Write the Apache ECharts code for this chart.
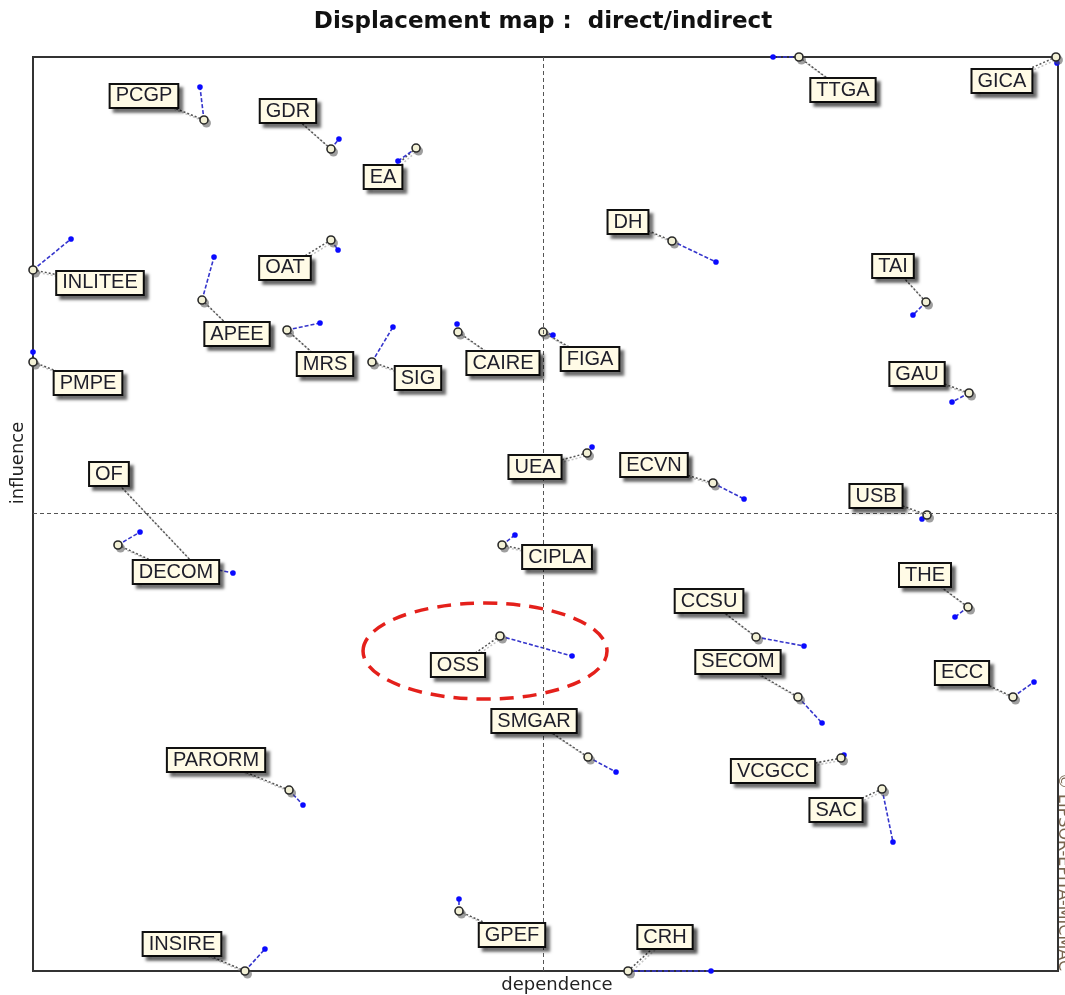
<!DOCTYPE html>
<html>
<head>
<meta charset="utf-8">
<script src="https://cdn.jsdelivr.net/npm/echarts@6/dist/echarts.min.js"></script>
<style>
html,body{margin:0;padding:0;background:#fff;}
#chart{width:1065px;height:995px;}
</style>
</head>
<body>
<div id="chart"></div>
<script>
// ---- data (dependence = x, influence = y) ----
const names = ['PCGP','GDR','EA','DH','TTGA','GICA','INLITEE','OAT','APEE','MRS','SIG','CAIRE','FIGA','PMPE','TAI','GAU','UEA','ECVN','USB','OF','DECOM','CIPLA','THE','CCSU','SECOM','ECC','OSS','SMGAR','PARORM','VCGCC','SAC','GPEF','CRH','INSIRE'];
const directX   = [16.68,29.07,37.37,62.34,74.73,99.8,0,29.07,16.49,24.78,33.07,41.46,49.76,0,87.12,91.32,54.05,66.34,87.22,15.80,8.29,45.76,91.22,70.54,74.63,95.61,45.56,54.15,24.98,78.83,82.83,41.56,58.05,20.68];
const directY   = [93.11,89.93,90.04,79.87,100,100,76.70,79.98,73.41,70.13,66.63,69.91,69.91,66.63,73.19,63.24,56.67,53.39,49.89,44.42,46.61,46.61,39.82,36.54,29.98,29.98,36.65,23.41,19.80,23.30,19.91,6.56,0,0];
const indirectX = [16.29,29.85,35.61,66.63,72.20,99.9,3.71,29.76,17.66,28.00,35.12,41.37,50.73,0,85.85,89.66,54.54,69.37,86.73,19.51,10.44,47.02,89.95,75.22,76.98,97.66,52.59,56.88,26.34,79.12,83.90,41.56,66.15,22.63];
const indirectY = [96.72,91.03,88.62,77.57,100,99.34,80.09,78.88,78.12,70.90,70.46,70.79,69.58,67.72,71.77,62.25,57.33,51.64,49.45,43.54,48.03,47.70,38.73,35.56,27.13,31.62,34.46,21.77,18.16,23.63,14.11,7.88,0,2.41];
const meanX = 49.76;
const meanY = 50.11;
const axisMin = 0, axisMax = 100;
const titleText = 'Displacement map :  direct/indirect';
const xName = 'dependence';
const yName = 'influence';
const copyright = '\u00A9 LIPSOR-EPITA-MICMAC';
// highlighted group (ellipse around OSS), in data units
const ellipseCenter = [44.1, 35.0];

// ---- layout (label offsets in pixels from the direct point) ----
const labelDx = [-60,-43,-33,-44,44,-54,67,-46,35,38,46,45,47,55,-33,-52,-52,-59,-51,-86,58,55,-43,-47,-60,-51,-42,-54,-73,-68,-46,53,37,-63];
const labelDy = [-24,-38,29,-19,33,24,13,28,34,34,16,31,27,21,-36,-19,14,-18,-19,-91,27,12,-32,-36,-35,-24,29,-36,-30,13,21,24,-34,-27];
const ellipseR = [122, 48];

const chart = echarts.init(document.getElementById('chart'), null, {renderer:'canvas'});
const seriesData = names.map((n,i)=>[directX[i],directY[i],indirectX[i],indirectY[i],i]);

function renderMarks(params, api){
  const p = api.coord([api.value(0), api.value(1)]);
  const q = api.coord([api.value(2), api.value(3)]);
  const i = api.value(4);
  const lx = p[0] + labelDx[i], ly = p[1] + labelDy[i];
  return {type:'group', children:[
    {type:'line', shape:{x1:p[0]+2,y1:p[1]+2,x2:lx+2,y2:ly+2}, style:{stroke:'#c4c4c4',lineWidth:1.5,lineDash:[2,2]}},
    {type:'line', shape:{x1:p[0],y1:p[1],x2:lx,y2:ly}, style:{stroke:'#555',lineWidth:1.5,lineDash:[2,2]}},
    {type:'line', shape:{x1:p[0],y1:p[1],x2:q[0],y2:q[1]}, style:{stroke:'#3535cc',lineWidth:1.6,lineDash:[4,2]}},
    {type:'circle', shape:{cx:q[0],cy:q[1],r:2.8}, style:{fill:'#0a0aff'}},
    {type:'circle', shape:{cx:p[0]+2.5,cy:p[1]+3,r:4.5}, style:{fill:'rgba(80,80,80,0.55)'}},
    {type:'circle', shape:{cx:p[0],cy:p[1],r:4}, style:{fill:'#f3f1d6',stroke:'#2a2a2a',lineWidth:1.6}}
  ]};
}
function renderLabels(params, api){
  const p = api.coord([api.value(0), api.value(1)]);
  const i = api.value(4);
  return {type:'text', x:p[0]+labelDx[i], y:p[1]+labelDy[i], style:{
    text: names[i], fill:'#1e1e2a', font:'20px "Liberation Sans", Arial, sans-serif',
    align:'center', verticalAlign:'middle', lineHeight:20,
    backgroundColor:'#fffbe6', borderColor:'#111', borderWidth:2, padding:[1,5,1,5],
    shadowColor:'rgba(0,0,0,0.5)', shadowBlur:3, shadowOffsetX:4, shadowOffsetY:4
  }};
}

chart.setOption({
  animation:false,
  backgroundColor:'#fff',
  grid:{left:33,right:7,top:57,bottom:24,show:true,borderColor:'#333',borderWidth:2,backgroundColor:'#fff'},
  xAxis:{type:'value',min:axisMin,max:axisMax,
    axisLine:{show:false},axisTick:{show:false},axisLabel:{show:false},splitLine:{show:false}},
  yAxis:{type:'value',min:axisMin,max:axisMax,
    axisLine:{show:false},axisTick:{show:false},axisLabel:{show:false},splitLine:{show:false}},
  series:[
    {type:'custom', renderItem:renderMarks, data:seriesData, encode:{x:[0,2],y:[1,3]}, clip:false, z:3,
     markLine:{silent:true,symbol:'none',label:{show:false},lineStyle:{type:[4,3],color:'#555',width:1},
       data:[{xAxis:meanX},{yAxis:meanY}]}},
    {type:'custom', renderItem:renderLabels, data:seriesData, encode:{x:[0,2],y:[1,3]}, clip:false, z:5}
  ]
});

const c = chart.convertToPixel({gridIndex:0}, ellipseCenter);
chart.setOption({graphic:[
  {type:'text', x:543, y:22, z:10, style:{text:titleText, font:'bold 23px "DejaVu Sans", Verdana, sans-serif', fill:'#111', align:'center', verticalAlign:'middle'}},
  {type:'text', x:557, y:985, z:10, style:{text:xName, font:'18px "DejaVu Sans", Verdana, sans-serif', fill:'#222', align:'center', verticalAlign:'middle'}},
  {type:'text', x:18, y:463, rotation:Math.PI/2, z:10, style:{text:yName, font:'18px "DejaVu Sans", Verdana, sans-serif', fill:'#222', align:'center', verticalAlign:'middle'}},
  {type:'text', x:1063, y:773, rotation:-Math.PI/2, z:10, style:{text:copyright, font:'16px "DejaVu Sans", Verdana, sans-serif', fill:'#7a6650', align:'left', verticalAlign:'middle'}},
  {type:'ellipse', z:20, shape:{cx:c[0],cy:c[1],rx:ellipseR[0],ry:ellipseR[1]}, style:{fill:'none',stroke:'#e4201b',lineWidth:3.5,lineDash:[14,9]}}
]});
</script>
</body>
</html>
